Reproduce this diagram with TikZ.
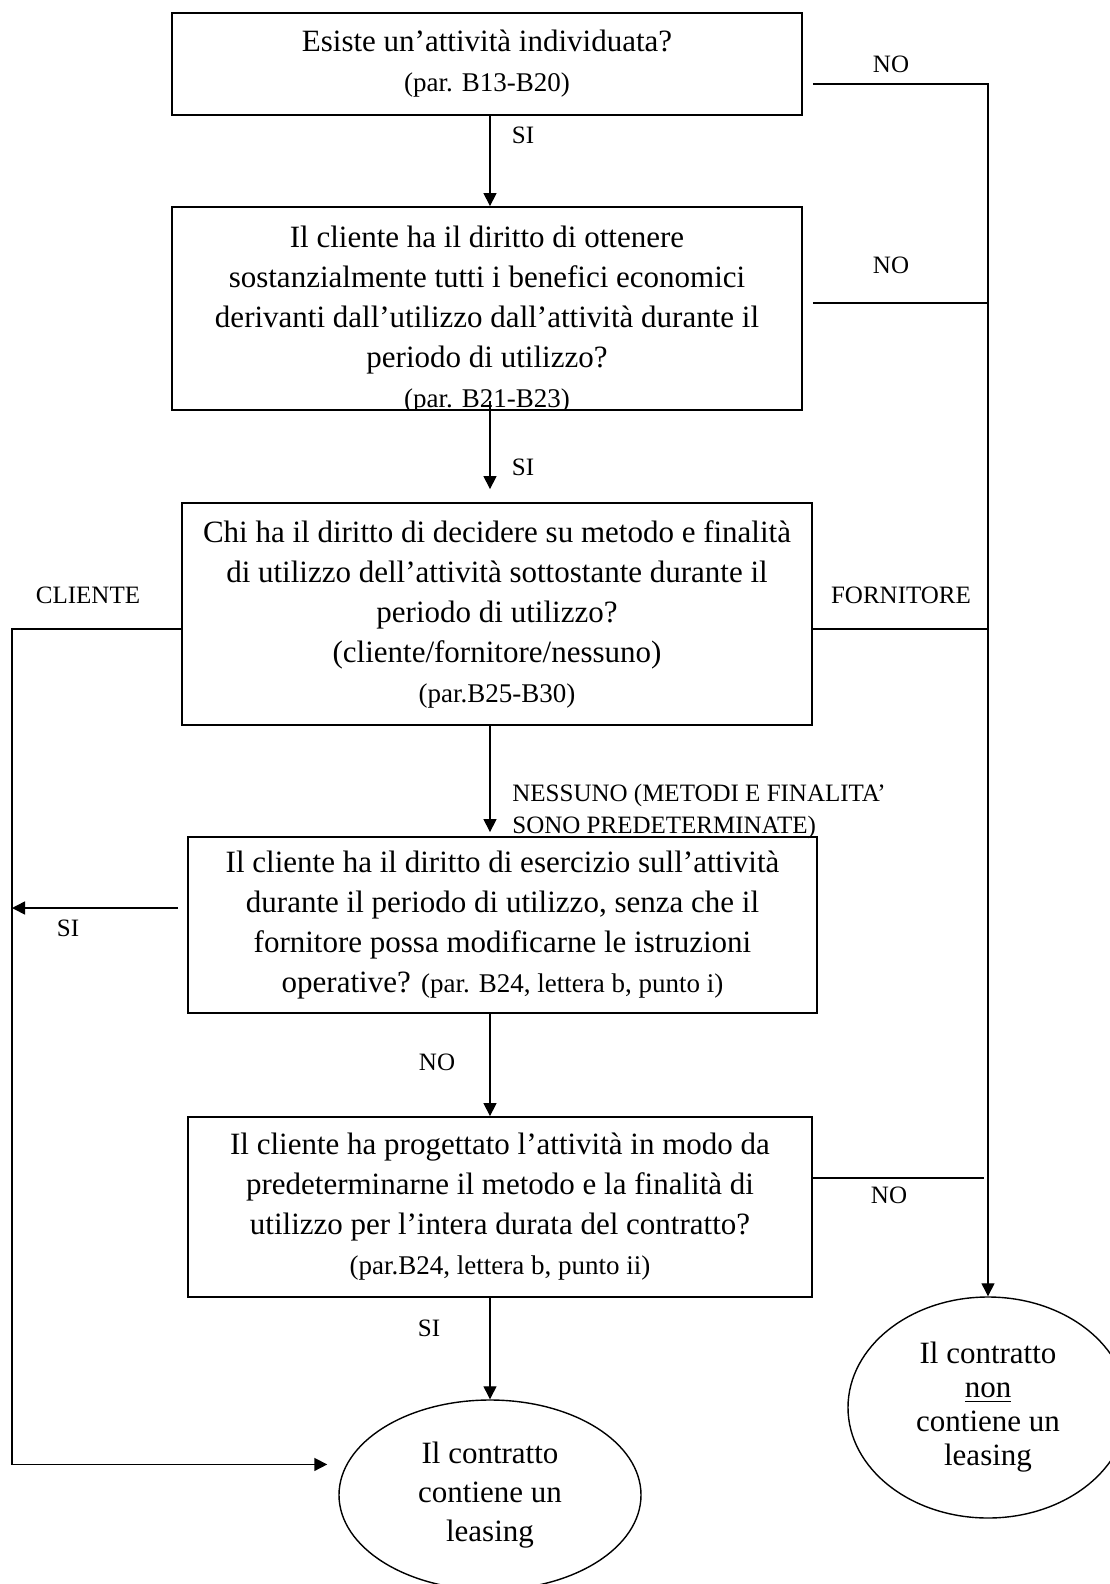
\documentclass[tikz,border=0pt]{standalone}
\usepackage{fontspec}
\setmainfont{Liberation Serif}
\usetikzlibrary{shapes.geometric}
\usetikzlibrary{arrows.meta}

\newcommand{\parfont}{\fontsize{13.5}{19}\selectfont}

\begin{document}
\begin{tikzpicture}[x=0.5pt, y=-0.5pt,
  box/.style={draw, line width=0.9pt, inner sep=0pt, align=center, font=\fontsize{15.5}{20}\selectfont},
  exitnode/.style={draw, ellipse, line width=0.7pt, inner sep=0pt, align=center},
  lbl/.style={inner sep=0pt, font=\fontsize{12.5}{16}\selectfont},
  conn/.style={line width=0.6pt},
  tip/.style={arrows={-Triangle[length=6.5pt, width=6.5pt]}}]

\useasboundingbox (0, 0) rectangle (1109, 1584);

\coordinate (spine) at (490, 0);
\coordinate (lane) at (12, 0);

\node (q1) [box, minimum width=315pt, minimum height=51pt] at (487, 64)
  {Esiste un’attività individuata?\\ {\parfont (par. B13-B20)}};
\node (q2) [box, minimum width=315pt, minimum height=101.5pt] at (487, 308.5) {};
\begin{scope}
\clip (q2.south west) rectangle (q2.north east);
\node (q2t) [box, draw=none] at (487, 320)
  {Il cliente ha il diritto di ottenere\\ sostanzialmente tutti i benefici economici\\ derivanti dall’utilizzo dall’attività durante il\\ periodo di utilizzo?\\ {\parfont (par. B21-B23)}};
\end{scope}
\node (q3) [box, minimum width=315pt, minimum height=111pt] at (497, 614)
  {Chi ha il diritto di decidere su metodo e finalità\\ di utilizzo dell’attività sottostante durante il\\ periodo di utilizzo?\\ (cliente/fornitore/nessuno)\\ {\parfont (par.B25-B30)}};
\node (q4) [box, minimum width=314.5pt, minimum height=88pt] at (502.5, 925)
  {Il cliente ha il diritto di esercizio sull’attività\\ durante il periodo di utilizzo, senza che il\\ fornitore possa modificarne le istruzioni\\ operative? {\parfont (par. B24, lettera b, punto i)}};
\node (q5) [box, minimum width=312pt, minimum height=90pt] at (500, 1207)
  {Il cliente ha progettato l’attività in modo da\\ predeterminarne il metodo e la finalità di\\ utilizzo per l’intera durata del contratto?\\ {\parfont (par.B24, lettera b, punto ii)}};

\node (lell) [exitnode, minimum width=151pt, minimum height=95pt, font=\fontsize{15.5}{19.5}\selectfont] at (490, 1495)
  {Il contratto\\ contiene un\\ leasing};
\node (rell) [exitnode, minimum width=140pt, minimum height=110.5pt, font=\fontsize{15.5}{17}\selectfont] at (988, 1407.5)
  {Il contratto\\ \underline{non}\\ contiene un\\ leasing};

\draw [conn, tip] (q1.south -| spine) -- (q2.north -| spine);
\draw [conn, tip, shorten <=-5pt, shorten >=6.5pt] (q2.south -| spine) -- (q3.north -| spine);
\draw [conn, tip, shorten >=2pt] (q3.south -| spine) -- (q4.north -| spine);
\draw [conn, tip] (q4.south -| spine) -- (q5.north -| spine);
\draw [conn, tip] (q5.south -| spine) -- (lell.north);

\coordinate (no1) at ([yshift=-10pt]q1.east);
\coordinate (no2) at ([yshift=2.75pt]q2.east);
\coordinate (forn) at ([yshift=-7.5pt]q3.east);
\coordinate (no5) at ([yshift=14.5pt]q5.east);
\coordinate (cli) at ([yshift=-7.5pt]q3.west);
\coordinate (si4) at ([yshift=8.5pt]q4.west);

\draw [conn, tip, shorten <=5pt] (no1) -| (rell.north);
\draw [conn, shorten <=5pt] (no2) -- (no2 -| rell.north);
\draw [conn] (forn) -- (forn -| rell.north);
\draw [conn, shorten >=2pt] (no5) -- (no5 -| rell.north);

\draw [conn, line width=0.8pt, tip, shorten >=9.5pt] (cli) -- (cli -| lane) |- (lell.168);
\draw [conn, line width=0.8pt, tip, shorten <=4.5pt] (si4) -- (si4 -| lane);

\node (lno1) [lbl] at (891, 64) {NO};
\node (lsi1) [lbl] at (523, 135) {SI};
\node (lno2) [lbl] at (891, 265) {NO};
\node (lsi2) [lbl] at (523, 467) {SI};
\node (lcli) [lbl] at (88, 595) {CLIENTE};
\node (lforn) [lbl] at (901, 595) {FORNITORE};
\node (lness) [lbl, anchor=west, align=left] at (512, 811)
  {NESSUNO (METODI E FINALITA’\\ SONO PREDETERMINATE)};
\node (lsi3) [lbl] at (68, 928) {SI};
\node (lno4) [lbl] at (437, 1062) {NO};
\node (lno5) [lbl] at (889, 1195) {NO};
\node (lsi5) [lbl] at (429, 1328) {SI};
\end{tikzpicture}
\end{document}
